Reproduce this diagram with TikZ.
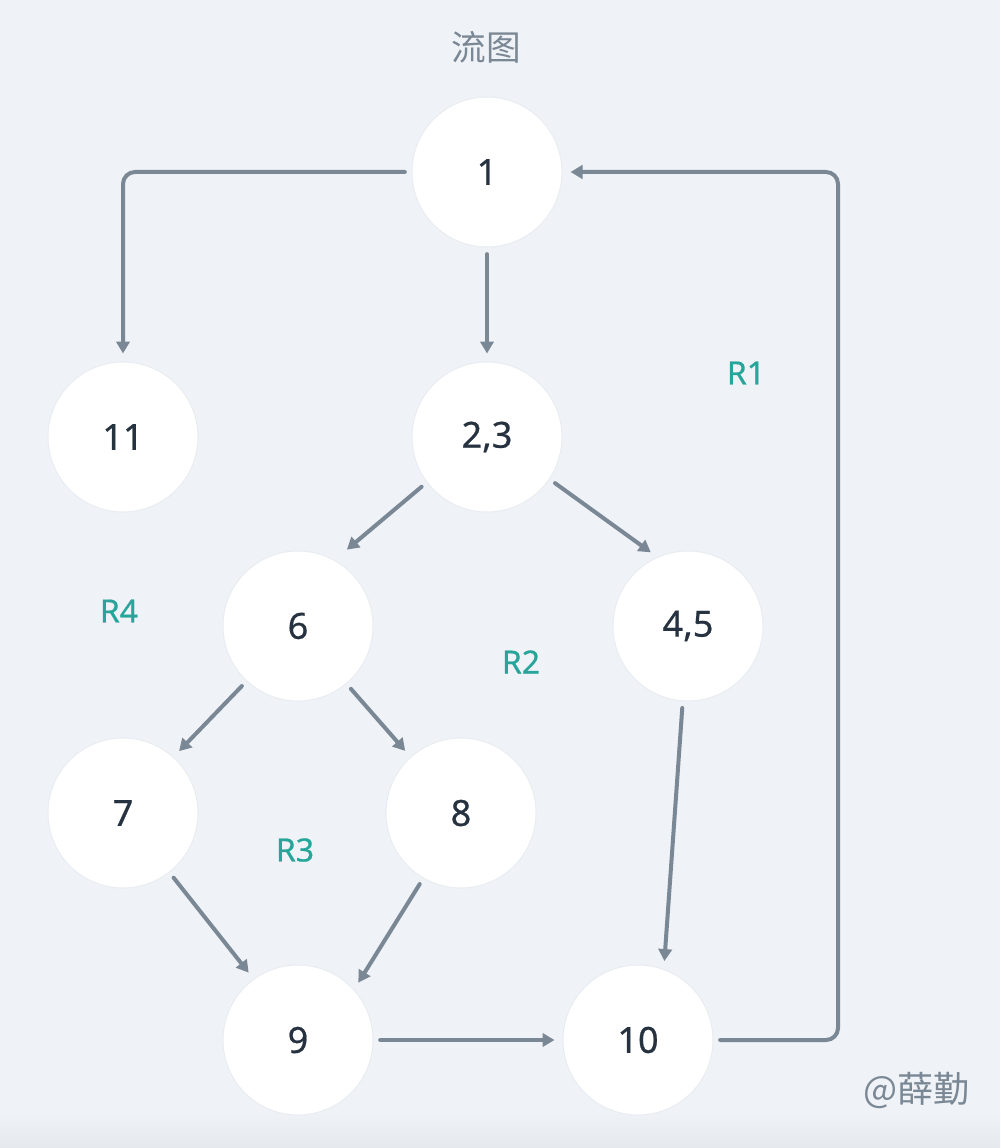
\documentclass[tikz,border=0pt]{standalone}
\usepackage{fontspec}
\setmainfont{Noto Sans}
\newfontfamily\numfont{Noto Sans}[FakeBold=0.6]
\newfontfamily\cjk{Noto Sans CJK SC}
\usetikzlibrary{arrows.meta}
\definecolor{bg}{RGB}{239,242,246}
\definecolor{bgdark}{RGB}{229,233,237}
\definecolor{ring}{RGB}{233,236,240}
\definecolor{arc}{RGB}{122,135,148}
\definecolor{txt}{RGB}{38,50,64}
\definecolor{teal}{RGB}{38,166,154}
\definecolor{gtxt}{RGB}{122,135,148}
\tikzset{
  vnode/.style={circle, fill=white, draw=ring, line width=0.75pt, minimum size=112.5pt, inner sep=0pt,
    font=\numfont\fontsize{27}{30}\selectfont, text=txt},
  conn/.style={draw=arc, line width=3pt, line cap=round, -{Triangle[length=9pt,width=10pt]},
    shorten <=5pt, shorten >=6pt},
  reglabel/.style={font=\numfont\fontsize{24}{28}\selectfont, text=teal},
}
\begin{document}
\begin{tikzpicture}[x=0.75pt,y=-0.75pt]
\fill[bg] (0,0) rectangle (1000,1148);
\shade[top color=bg,bottom color=bgdark] (0,1112) rectangle (1000,1148);
\useasboundingbox (0,0) rectangle (1000,1148);

\node[font=\cjk\fontsize{26}{30}\selectfont, text=gtxt] (title) at (486,47) {流图};
\node[font=\cjk\fontsize{27}{30}\selectfont, text=gtxt, anchor=east] (mark) at (974,1090) {@薛勤};

\node[vnode] (n1) at (487,172) {1};
\node[vnode] (n11) at (123,437) {11};
\node[vnode] (n23) at (487,437) {2,3};
\node[vnode] (n6) at (298,626) {6};
\node[vnode] (n45) at (688,626) {4,5};
\node[vnode] (n7) at (123,813) {7};
\node[vnode] (n8) at (461,813) {8};
\node[vnode] (n9) at (298,1040) {9};
\node[vnode] (n10) at (638,1040) {10};

\node[reglabel] (r1) at (746,373) {R1};
\node[reglabel] (r2) at (521,662) {R2};
\node[reglabel] (r3) at (295,850) {R3};
\node[reglabel] (r4) at (119,611) {R4};

\coordinate (loopR) at (838,172);

\draw[conn, rounded corners=9pt] (n1.west) -| (n11.north);
\draw[conn] (n1.south) -- (n23.north);
\draw[conn, shorten >=12pt] (n23.217) -- (n6.61);
\draw[conn] (n23.326) -- (n45.114);
\draw[conn] (n6.227) -- (n7.48);
\draw[conn] (n6.310) -- (n8.132);
\draw[conn] (n7.308) -- (n9.126);
\draw[conn] (n8.240) -- (n9.42);
\draw[conn] (n45.266) -- (n10.70);
\draw[conn] (n9.east) -- (n10.west);
\draw[conn, rounded corners=9pt] (n10.east) -| (loopR) -- (n1.east);
\end{tikzpicture}
\end{document}
